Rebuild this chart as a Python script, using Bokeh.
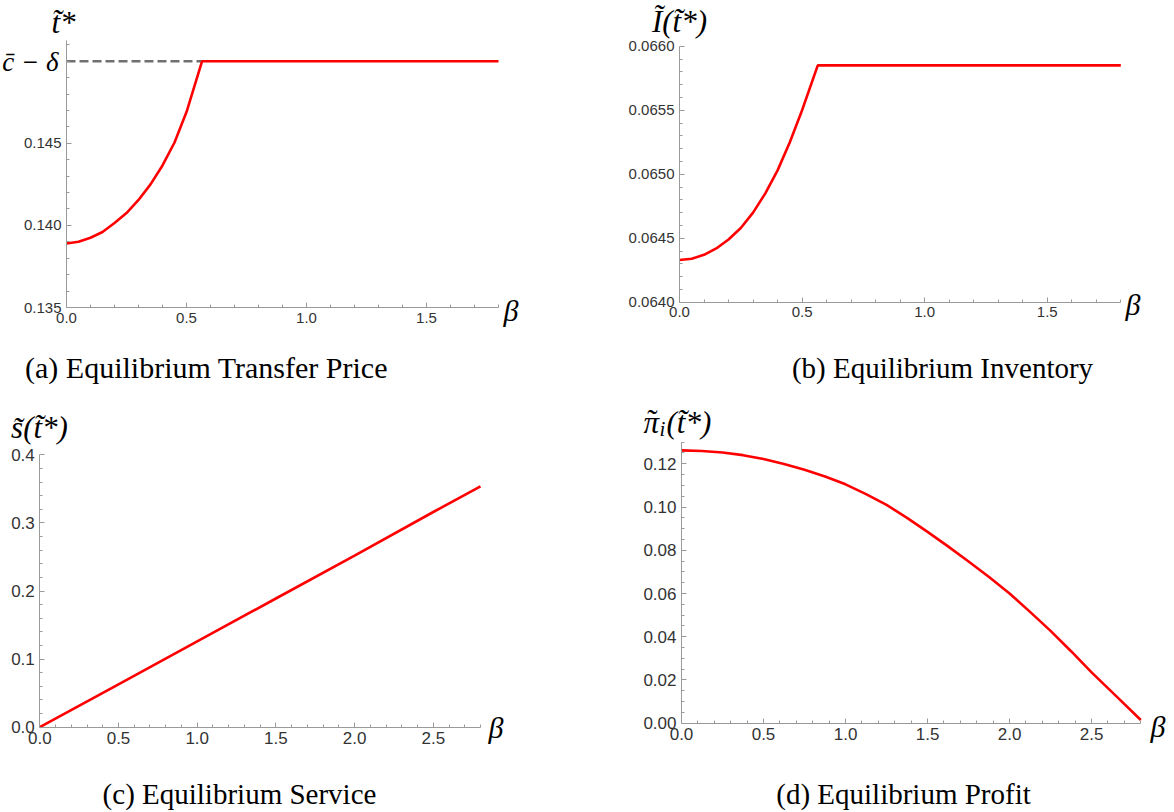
from bokeh.plotting import figure
from bokeh.models import FixedTicker, Label, Range1d
from bokeh.layouts import column, row
from bokeh.embed import file_html
from bokeh.resources import INLINE

# ---------------- data ----------------
# (a) Equilibrium transfer price
beta_a = [0.0, 0.05, 0.1, 0.15, 0.2, 0.25, 0.3, 0.35, 0.4, 0.45, 0.5, 0.565, 1.8]
t_star = [0.13890, 0.13900, 0.13925, 0.13960, 0.14015, 0.14075, 0.14155,
          0.14250, 0.14365, 0.14505, 0.14690, 0.15000, 0.15000]
c_minus_delta = 0.15
beta_kink = 0.565

# (b) Equilibrium inventory
beta_b = [0.0, 0.05, 0.1, 0.15, 0.2, 0.25, 0.3, 0.35, 0.4, 0.45, 0.5, 0.564, 1.8]
inventory = [0.06433, 0.06434, 0.06437, 0.06442, 0.06449, 0.06458, 0.06470,
             0.06485, 0.06503, 0.06525, 0.06550, 0.06585, 0.06585]

# (c) Equilibrium service
beta_c = [0.0, 0.5, 1.0, 1.5, 2.0, 2.5, 2.8]
service = [0.0, 0.063, 0.126, 0.189, 0.252, 0.316, 0.3535]

# (d) Equilibrium profit
beta_d = [0.0, 0.125, 0.25, 0.375, 0.5, 0.625, 0.75, 0.875, 1.0, 1.125, 1.25, 1.375,
          1.5, 1.625, 1.75, 1.875, 2.0, 2.125, 2.25, 2.375, 2.5, 2.65, 2.8]
profit = [0.1262, 0.1259, 0.1252, 0.1240, 0.1222, 0.1199, 0.1172, 0.1141, 0.1105,
          0.1060, 0.1010, 0.0950, 0.0885, 0.0818, 0.0748, 0.0676, 0.0600, 0.0515,
          0.0427, 0.0333, 0.0235, 0.0125, 0.0015]

# tick values / labels
xticks_ab = [0.0, 0.5, 1.0, 1.5]
xticks_cd = [0.0, 0.5, 1.0, 1.5, 2.0, 2.5]
yticks_a = [0.135, 0.140, 0.145]
ylabels_a = ["0.135", "0.140", "0.145"]
yticks_b = [0.0640, 0.0645, 0.0650, 0.0655, 0.0660]
ylabels_b = ["0.0640", "0.0645", "0.0650", "0.0655", "0.0660"]
yticks_c = [0.0, 0.1, 0.2, 0.3, 0.4]
ylabels_c = ["0.0", "0.1", "0.2", "0.3", "0.4"]
yticks_d = [0.0, 0.02, 0.04, 0.06, 0.08, 0.10, 0.12]
ylabels_d = ["0.00", "0.02", "0.04", "0.06", "0.08", "0.10", "0.12"]

captions = ["(a) Equilibrium Transfer Price", "(b) Equilibrium Inventory",
            "(c) Equilibrium Service", "(d) Equilibrium Profit"]
ytitles = ["t\u0303*", "I\u0303(t\u0303*)", "s\u0303(t\u0303*)"]
ytitle_d = ["\u03c0", "\u02dc", "i", "(t\u0303*)"]
c_delta_label = "c\u0304 \u2212 \u03b4"
x_title = "\u03b2"

AX = "#9a9a9a"
RED = "#ff0000"
SERIF = "Liberation Serif"


def minor(lo, hi, step, majors):
    n = int(round((hi - lo) / step))
    vals = [round(lo + i * step, 6) for i in range(n + 1)]
    return [v for v in vals if all(abs(v - m) > 1e-9 for m in majors)]


def panel(w, h, box, xr, yr, ybound_top, xmaj, xmin, ymaj, ymin, ylabs, fs):
    # box: pixel positions (left, right, bottom, top) of the data rectangle
    # xr/yr: data values at those pixel positions; frame = whole canvas
    L, R, B, T = box
    sx = (R - L) / (xr[1] - xr[0])
    sy = (B - T) / (yr[1] - yr[0])
    x_lo = xr[0] - L / sx
    x_hi = xr[0] + (w - L) / sx
    y_lo = yr[0] - (h - B) / sy
    y_hi = yr[0] + B / sy
    p = figure(width=w, height=h, x_range=Range1d(x_lo, x_hi), y_range=Range1d(y_lo, y_hi),
               output_backend="svg", toolbar_location=None,
               min_border_left=0, min_border_right=0, min_border_top=0, min_border_bottom=0)
    p.xgrid.visible = False
    p.ygrid.visible = False
    p.outline_line_color = None
    p.background_fill_color = "white"
    p.border_fill_color = "white"
    p.xaxis[0].ticker = FixedTicker(ticks=xmaj, minor_ticks=xmin)
    p.yaxis[0].ticker = FixedTicker(ticks=ymaj, minor_ticks=ymin)
    p.xaxis[0].major_label_overrides = {v: f"{v:.1f}" for v in xmaj}
    p.yaxis[0].major_label_overrides = {v: s for v, s in zip(ymaj, ylabs)}
    p.xaxis[0].fixed_location = yr[0]
    p.yaxis[0].fixed_location = xr[0]
    p.xaxis[0].bounds = (xr[0], xr[1])
    p.yaxis[0].bounds = (yr[0], ybound_top)
    for ax in (p.xaxis[0], p.yaxis[0]):
        ax.axis_line_color = AX
        ax.axis_line_width = 1
        ax.major_tick_line_color = AX
        ax.minor_tick_line_color = AX
        ax.major_tick_in = 5
        ax.major_tick_out = 0
        ax.minor_tick_in = 3
        ax.minor_tick_out = 0
        ax.major_label_text_font = "Liberation Sans"
        ax.major_label_text_font_size = f"{fs}px"
        ax.major_label_text_color = "#333333"
        ax.major_label_standoff = 5
    return p


def lab(p, x, y, text, size, align="center", base="alphabetic", style="italic"):
    # x, y are canvas pixels of this figure (origin top-left)
    p.add_layout(Label(x=x, y=y, x_units="canvas", y_units="canvas", text=text,
                       text_font=SERIF, text_font_style=style,
                       text_font_size=f"{size}px", text_color="black",
                       text_align=align, text_baseline=base))


# ---------- (a) ----------
pa = panel(587, 400, (66, 498, 307, 60.7), (0, 1.8), (0.135, 0.15), 0.15126,
           xticks_ab, minor(0, 1.8, 0.1, xticks_ab),
           yticks_a, minor(0.135, 0.151, 0.001, yticks_a), ylabels_a, 15)
pa.line([0, beta_kink], [c_minus_delta, c_minus_delta], line_color="#707070",
        line_width=2.5, line_dash="9 4")
pa.line(beta_a, t_star, line_color=RED, line_width=2.6)
lab(pa, 63, 22, ytitles[0], 31)
lab(pa, 58, 61, c_delta_label, 27, align="right", base="middle")
lab(pa, 503, 310, x_title, 30, align="left", base="middle")
lab(pa, 206, 367, captions[0], 30, style="normal")

# ---------- (b) ----------
pb = panel(587, 400, (92, 533.3, 301.7, 45.7), (0, 1.8), (0.0640, 0.0660), 0.0660,
           xticks_ab, minor(0, 1.8, 0.1, xticks_ab),
           yticks_b, minor(0.0640, 0.0660, 0.0001, yticks_b), ylabels_b, 15)
pb.line(beta_b, inventory, line_color=RED, line_width=2.6)
lab(pb, 92, 21, ytitles[1], 31)
lab(pb, 538, 304, x_title, 30, align="left", base="middle")
lab(pb, 355, 367, captions[1], 29, style="normal")

# ---------- (c) ----------
pc = panel(587, 412, (39.3, 480, 326.7, 54.3), (0, 2.8), (0.0, 0.4), 0.4,
           xticks_cd, minor(0, 2.8, 0.1, xticks_cd),
           yticks_c, minor(0, 0.4, 0.02, yticks_c), ylabels_c, 17)
pc.line(beta_c, service, line_color=RED, line_width=2.6)
lab(pc, 39, 27, ytitles[2], 31)
lab(pc, 488, 327, x_title, 30, align="left", base="middle")
lab(pc, 239, 393, captions[2], 29, style="normal")

# ---------- (d) ----------
pd = panel(587, 412, (94, 553.3, 322.7, 63.3), (0, 2.8), (0.0, 0.12), 0.13,
           xticks_cd, minor(0, 2.8, 0.1, xticks_cd),
           yticks_d, minor(0, 0.13, 0.005, yticks_d), ylabels_d, 17)
pd.line(beta_d, profit, line_color=RED, line_width=2.6)
lab(pd, 56, 22, ytitle_d[0], 31, align="left")
lab(pd, 65, 20, ytitle_d[1], 31, align="center", style="normal")
lab(pd, 72, 28, ytitle_d[2], 21, align="left")
lab(pd, 79, 22, ytitle_d[3], 31, align="left")
lab(pd, 563, 326, x_title, 30, align="left", base="middle")
lab(pd, 316, 393, captions[3], 29, style="normal")

layout = column(row(pa, pb), row(pc, pd))
open("out.html", "w").write(file_html(layout, INLINE))
